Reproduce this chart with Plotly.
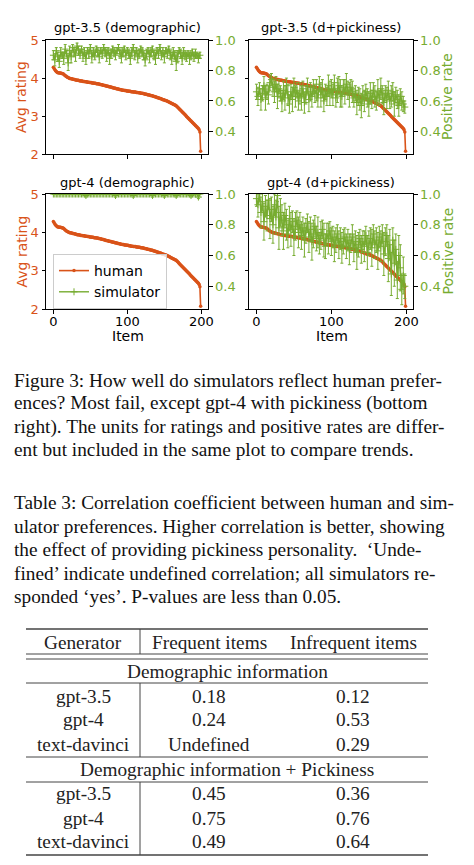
import plotly.graph_objects as go

W, H = 474, 865
ORANGE = "#D95319"
GREEN = "#77AC30"

# ---------------- data ----------------
ITEMS = list(range(200))
HUMAN = [
    4.28, 4.25, 4.22, 4.19, 4.17, 4.15, 4.14, 4.14, 4.13, 4.13,
    4.13, 4.12, 4.12, 4.11, 4.10, 4.08, 4.06, 4.05, 4.03, 4.02,
    4.01, 4.00, 3.99, 3.99, 3.98, 3.98, 3.97, 3.97, 3.96, 3.96,
    3.95, 3.95, 3.94, 3.94, 3.94, 3.93, 3.93, 3.92, 3.92, 3.92,
    3.91, 3.91, 3.91, 3.90, 3.90, 3.90, 3.89, 3.89, 3.89, 3.88,
    3.88, 3.88, 3.87, 3.87, 3.87, 3.86, 3.86, 3.86, 3.85, 3.85,
    3.85, 3.84, 3.84, 3.83, 3.83, 3.82, 3.82, 3.81, 3.81, 3.80,
    3.80, 3.79, 3.79, 3.78, 3.78, 3.77, 3.77, 3.76, 3.76, 3.75,
    3.75, 3.74, 3.74, 3.73, 3.73, 3.72, 3.72, 3.71, 3.71, 3.70,
    3.70, 3.69, 3.69, 3.68, 3.68, 3.68, 3.67, 3.67, 3.67, 3.66,
    3.66, 3.66, 3.65, 3.65, 3.65, 3.64, 3.64, 3.64, 3.63, 3.63,
    3.63, 3.63, 3.62, 3.62, 3.62, 3.61, 3.61, 3.61, 3.60, 3.60,
    3.60, 3.59, 3.59, 3.58, 3.58, 3.57, 3.57, 3.56, 3.56, 3.55,
    3.55, 3.54, 3.54, 3.53, 3.53, 3.52, 3.51, 3.51, 3.50, 3.50,
    3.49, 3.48, 3.48, 3.47, 3.46, 3.46, 3.45, 3.44, 3.43, 3.43,
    3.42, 3.41, 3.41, 3.40, 3.39, 3.38, 3.37, 3.36, 3.35, 3.34,
    3.33, 3.32, 3.31, 3.30, 3.29, 3.28, 3.27, 3.25, 3.23, 3.21,
    3.19, 3.17, 3.15, 3.13, 3.11, 3.09, 3.07, 3.05, 3.03, 3.01,
    2.99, 2.97, 2.95, 2.93, 2.91, 2.89, 2.87, 2.85, 2.83, 2.81,
    2.79, 2.77, 2.75, 2.73, 2.71, 2.69, 2.67, 2.64, 2.58, 2.07,
]

SIM_ITEMS = list(range(0, 200, 2))

GPT35_DEMO = [
    0.90, 0.87, 0.93, 0.89, 0.86, 0.92, 0.90, 0.88, 0.94, 0.91,
    0.85, 0.93, 0.89, 0.95, 0.92, 0.90, 0.96, 0.93, 0.91, 0.94,
    0.90, 0.92, 0.88, 0.93, 0.91, 0.95, 0.89, 0.92, 0.90, 0.94,
    0.92, 0.89, 0.93, 0.91, 0.95, 0.92, 0.90, 0.93, 0.88, 0.91,
    0.94, 0.92, 0.90, 0.93, 0.95, 0.91, 0.89, 0.92, 0.94, 0.90,
    0.93, 0.91, 0.88, 0.92, 0.95, 0.90, 0.93, 0.89, 0.91, 0.94,
    0.92, 0.90, 0.87, 0.91, 0.93, 0.89, 0.92, 0.94, 0.90, 0.88,
    0.93, 0.91, 0.95, 0.90, 0.92, 0.89, 0.93, 0.91, 0.94, 0.90,
    0.88, 0.92, 0.90, 0.86, 0.89, 0.93, 0.91, 0.88, 0.92, 0.90,
    0.89, 0.91, 0.88, 0.90, 0.92, 0.89, 0.91, 0.90, 0.88, 0.90,
]
GPT35_DEMO_ERR = [
    0.03, 0.04, 0.02, 0.03, 0.04, 0.03, 0.02, 0.04, 0.03, 0.02,
    0.05, 0.03, 0.04, 0.02, 0.03, 0.04, 0.02, 0.03, 0.03, 0.02,
    0.04, 0.03, 0.04, 0.02, 0.03, 0.02, 0.04, 0.03, 0.03, 0.02,
    0.03, 0.04, 0.02, 0.03, 0.02, 0.03, 0.04, 0.02, 0.04, 0.03,
    0.02, 0.03, 0.03, 0.02, 0.02, 0.03, 0.04, 0.03, 0.02, 0.03,
    0.02, 0.03, 0.04, 0.03, 0.02, 0.03, 0.02, 0.04, 0.03, 0.02,
    0.03, 0.03, 0.04, 0.03, 0.02, 0.04, 0.03, 0.02, 0.03, 0.04,
    0.02, 0.03, 0.02, 0.03, 0.03, 0.04, 0.02, 0.03, 0.02, 0.03,
    0.04, 0.03, 0.03, 0.06, 0.04, 0.02, 0.03, 0.04, 0.03, 0.03,
    0.03, 0.02, 0.04, 0.03, 0.02, 0.03, 0.03, 0.02, 0.03, 0.02,
]

GPT35_PICK = [
    0.66, 0.63, 0.68, 0.61, 0.65, 0.70, 0.62, 0.66, 0.64, 0.72,
    0.74, 0.69, 0.66, 0.71, 0.63, 0.68, 0.65, 0.60, 0.67, 0.62,
    0.70, 0.64, 0.58, 0.66, 0.61, 0.69, 0.63, 0.67, 0.60, 0.65,
    0.62, 0.68, 0.59, 0.64, 0.70, 0.61, 0.66, 0.63, 0.69, 0.65,
    0.67, 0.62, 0.71, 0.64, 0.68, 0.60, 0.66, 0.63, 0.70, 0.65,
    0.68, 0.64, 0.72, 0.62, 0.67, 0.70, 0.65, 0.63, 0.69, 0.66,
    0.71, 0.67, 0.64, 0.69, 0.66, 0.62, 0.65, 0.59, 0.63, 0.61,
    0.57, 0.64, 0.60, 0.66, 0.62, 0.58, 0.65, 0.61, 0.67, 0.63,
    0.60, 0.66, 0.62, 0.68, 0.64, 0.59, 0.65, 0.62, 0.67, 0.60,
    0.63, 0.66, 0.58, 0.64, 0.61, 0.57, 0.63, 0.60, 0.58, 0.56,
]
GPT35_PICK_ERR = [
    0.05, 0.06, 0.04, 0.07, 0.05, 0.06, 0.08, 0.05, 0.06, 0.05,
    0.04, 0.06, 0.07, 0.05, 0.08, 0.06, 0.05, 0.07, 0.06, 0.08,
    0.05, 0.07, 0.06, 0.05, 0.08, 0.06, 0.07, 0.05, 0.06, 0.07,
    0.08, 0.05, 0.07, 0.06, 0.05, 0.08, 0.06, 0.07, 0.05, 0.06,
    0.07, 0.06, 0.05, 0.08, 0.06, 0.07, 0.05, 0.06, 0.07, 0.08,
    0.06, 0.07, 0.05, 0.06, 0.08, 0.06, 0.09, 0.07, 0.05, 0.08,
    0.07, 0.06, 0.08, 0.05, 0.07, 0.06, 0.05, 0.08, 0.06, 0.07,
    0.08, 0.06, 0.07, 0.05, 0.06, 0.08, 0.07, 0.06, 0.05, 0.07,
    0.06, 0.08, 0.05, 0.07, 0.06, 0.08, 0.05, 0.07, 0.06, 0.05,
    0.07, 0.06, 0.08, 0.05, 0.06, 0.07, 0.05, 0.06, 0.05, 0.04,
]

GPT4_DEMO = [
    1.00, 1.00, 1.00, 1.00, 1.00, 1.00, 1.00, 1.00, 1.00, 1.00,
    1.00, 1.00, 1.00, 1.00, 1.00, 1.00, 1.00, 1.00, 1.00, 1.00,
    1.00, 1.00, 0.99, 1.00, 1.00, 1.00, 1.00, 1.00, 1.00, 1.00,
    1.00, 1.00, 1.00, 1.00, 1.00, 1.00, 1.00, 1.00, 1.00, 1.00,
    1.00, 1.00, 0.99, 1.00, 1.00, 1.00, 1.00, 1.00, 1.00, 1.00,
    1.00, 1.00, 1.00, 1.00, 0.99, 1.00, 1.00, 1.00, 1.00, 1.00,
    1.00, 1.00, 1.00, 1.00, 1.00, 1.00, 1.00, 0.99, 1.00, 1.00,
    1.00, 1.00, 1.00, 1.00, 1.00, 0.99, 1.00, 1.00, 1.00, 1.00,
    1.00, 1.00, 1.00, 0.99, 1.00, 1.00, 1.00, 1.00, 1.00, 1.00,
    1.00, 1.00, 1.00, 0.99, 1.00, 1.00, 1.00, 1.00, 0.98, 1.00,
]
GPT4_DEMO_ERR = [
    0.00, 0.00, 0.00, 0.00, 0.00, 0.00, 0.00, 0.00, 0.00, 0.00,
    0.00, 0.00, 0.00, 0.00, 0.00, 0.00, 0.00, 0.00, 0.00, 0.00,
    0.00, 0.00, 0.01, 0.00, 0.00, 0.00, 0.00, 0.00, 0.00, 0.00,
    0.00, 0.00, 0.00, 0.00, 0.00, 0.00, 0.00, 0.00, 0.00, 0.00,
    0.00, 0.00, 0.01, 0.00, 0.00, 0.00, 0.00, 0.00, 0.00, 0.00,
    0.00, 0.00, 0.00, 0.00, 0.01, 0.00, 0.00, 0.00, 0.00, 0.00,
    0.00, 0.00, 0.00, 0.00, 0.00, 0.00, 0.00, 0.01, 0.00, 0.00,
    0.00, 0.00, 0.00, 0.00, 0.00, 0.01, 0.00, 0.00, 0.00, 0.00,
    0.00, 0.00, 0.00, 0.01, 0.00, 0.00, 0.00, 0.00, 0.00, 0.00,
    0.00, 0.00, 0.00, 0.01, 0.00, 0.00, 0.00, 0.00, 0.01, 0.00,
]

GPT4_PICK = [
    0.97, 0.93, 1.00, 0.88, 0.95, 0.82, 0.92, 0.86, 0.96, 0.84,
    0.90, 0.80, 0.93, 0.85, 0.99, 0.78, 0.88, 0.83, 0.76, 0.86,
    0.80, 0.74, 0.84, 0.77, 0.82, 0.72, 0.79, 0.83, 0.75, 0.80,
    0.73, 0.78, 0.70, 0.76, 0.81, 0.72, 0.77, 0.69, 0.74, 0.79,
    0.71, 0.75, 0.68, 0.73, 0.77, 0.70, 0.66, 0.74, 0.71, 0.76,
    0.69, 0.72, 0.66, 0.70, 0.74, 0.67, 0.71, 0.65, 0.69, 0.72,
    0.66, 0.70, 0.64, 0.68, 0.72, 0.65, 0.69, 0.62, 0.67, 0.71,
    0.64, 0.69, 0.66, 0.73, 0.62, 0.68, 0.71, 0.65, 0.74, 0.67,
    0.70, 0.63, 0.72, 0.66, 0.74, 0.61, 0.69, 0.73, 0.58, 0.67,
    0.48, 0.70, 0.55, 0.64, 0.44, 0.60, 0.52, 0.38, 0.47, 0.40,
]
GPT4_PICK_ERR = [
    0.05, 0.08, 0.04, 0.10, 0.06, 0.12, 0.07, 0.10, 0.05, 0.13,
    0.08, 0.12, 0.07, 0.11, 0.04, 0.14, 0.09, 0.10, 0.12, 0.08,
    0.10, 0.09, 0.08, 0.11, 0.07, 0.12, 0.09, 0.06, 0.10, 0.08,
    0.09, 0.07, 0.11, 0.08, 0.06, 0.10, 0.08, 0.12, 0.09, 0.07,
    0.08, 0.10, 0.07, 0.09, 0.06, 0.11, 0.08, 0.07, 0.10, 0.06,
    0.09, 0.07, 0.10, 0.08, 0.06, 0.09, 0.07, 0.10, 0.08, 0.06,
    0.08, 0.07, 0.10, 0.06, 0.08, 0.09, 0.07, 0.11, 0.08, 0.06,
    0.09, 0.07, 0.10, 0.06, 0.11, 0.08, 0.07, 0.12, 0.06, 0.09,
    0.08, 0.12, 0.07, 0.10, 0.06, 0.14, 0.09, 0.07, 0.15, 0.10,
    0.14, 0.08, 0.15, 0.10, 0.12, 0.13, 0.15, 0.10, 0.12, 0.08,
]

PANEL_TITLES = ["gpt-3.5 (demographic)", "gpt-3.5 (d+pickiness)",
                "gpt-4 (demographic)", "gpt-4 (d+pickiness)"]
SIM_SERIES = [GPT35_DEMO, GPT35_PICK, GPT4_DEMO, GPT4_PICK]
SIM_ERRORS = [GPT35_DEMO_ERR, GPT35_PICK_ERR, GPT4_DEMO_ERR, GPT4_PICK_ERR]

LEFT_TICKS = [2, 3, 4, 5]
RIGHT_TICKS = [0.4, 0.6, 0.8, 1.0]
RIGHT_TICKTEXT = ["0.4", "0.6", "0.8", "1.0"]
X_TICKS = [0, 100, 200]

CAPTION_FIG = [
    "Figure 3: How well do simulators reflect human prefer-",
    "ences? Most fail, except gpt-4 with pickiness (bottom",
    "right). The units for ratings and positive rates are differ-",
    "ent but included in the same plot to compare trends.",
]
CAPTION_TAB = [
    "Table 3: Correlation coefficient between human and sim-",
    "ulator preferences. Higher correlation is better, showing",
    "the effect of providing pickiness personality.  \u2018Unde-",
    "fined\u2019 indicate undefined correlation; all simulators re-",
    "sponded \u2018yes\u2019. P-values are less than 0.05.",
]

TABLE_HEADER = ["Generator", "Frequent items", "Infrequent items"]
GENERATORS = ["gpt-3.5", "gpt-4", "text-davinci"]
SECTION_1 = "Demographic information"
FREQ_DEMO = ["0.18", "0.24", "Undefined"]
INFREQ_DEMO = ["0.12", "0.53", "0.29"]
SECTION_2 = "Demographic information + Pickiness"
FREQ_PICK = ["0.45", "0.75", "0.49"]
INFREQ_PICK = ["0.36", "0.76", "0.64"]

# ---------------- helpers ----------------
# the page body has an 8px margin, so the figure itself starts at (8, 8)
OFF = 8

def px(x):
    return (x - OFF) / W

def py(y):
    return 1 - (y - OFF) / H

SANS = "DejaVu Sans"
SERIF = "Liberation Serif"

fig = go.Figure()

# panel boxes in page pixels: (left, right, top, bottom)
boxes = [(46, 208, 40, 154), (249, 413, 40, 154),
         (46, 208, 194, 309), (249, 413, 194, 309)]

layout = {}
for i, (l, r, t, b) in enumerate(boxes):
    xid = "x" if i == 0 else f"x{i+1}"
    yl = "y" if i == 0 else f"y{2*i+1}"
    yr = f"y{2*i+2}"
    xkey = "xaxis" if i == 0 else f"xaxis{i+1}"
    ylkey = "yaxis" if i == 0 else f"yaxis{2*i+1}"
    yrkey = f"yaxis{2*i+2}"
    bottom_row = i >= 2
    left_col = i % 2 == 0
    common = dict(showline=True, linecolor="#000", linewidth=1, ticks="outside",
                  ticklen=3.5, tickwidth=1, tickcolor="#000", showgrid=False,
                  zeroline=False, fixedrange=True, automargin=False)
    layout[xkey] = dict(domain=[px(l), px(r)], anchor=yl, range=[-9.95, 208.95],
                        tickvals=X_TICKS, showticklabels=bottom_row, mirror=True,
                        ticklabelstandoff=-3,
                        tickfont=dict(family=SANS, size=13, color="#000"), **common)
    layout[ylkey] = dict(domain=[py(b), py(t)], anchor=xid, range=[2, 5],
                         tickvals=LEFT_TICKS, showticklabels=left_col,
                         tickfont=dict(family=SANS, size=13, color=ORANGE), **common)
    layout[yrkey] = dict(overlaying=yl, anchor=xid, side="right", range=[0.252, 1.0],
                         tickvals=RIGHT_TICKS, ticktext=RIGHT_TICKTEXT,
                         tickfont=dict(family=SANS, size=13, color=GREEN), **common)

    fig.add_trace(go.Scatter(
        x=ITEMS, y=HUMAN, mode="lines+markers", name="human",
        line=dict(color=ORANGE, width=1.6), marker=dict(size=3.5, color=ORANGE),
        xaxis=xid, yaxis=yl, showlegend=(i == 2), legendrank=1))
    fig.add_trace(go.Scatter(
        x=SIM_ITEMS, y=SIM_SERIES[i], mode="lines+markers", name="simulator",
        line=dict(color=GREEN, width=1.4),
        marker=dict(symbol="cross-thin", size=5, color=GREEN, line=dict(width=1, color=GREEN)),
        error_y=dict(type="data", array=SIM_ERRORS[i], color=GREEN, thickness=1, width=1.5),
        xaxis=xid, yaxis=yr, showlegend=(i == 2), legendrank=2))

annotations = []
title_y = [28, 28, 182, 182]
for i, (l, r, t, b) in enumerate(boxes):
    annotations.append(dict(text=PANEL_TITLES[i], x=px((l + r) / 2), y=py(title_y[i]),
                            xref="paper", yref="paper", showarrow=False,
                            xanchor="center", yanchor="middle",
                            font=dict(family=SANS, size=13, color="#000")))

# axis titles
for yc in [(40 + 154) / 2, (194 + 309) / 2]:
    annotations.append(dict(text="Avg rating", x=px(21), y=py(yc), xref="paper", yref="paper",
                            showarrow=False, textangle=-90, xanchor="center", yanchor="middle",
                            font=dict(family=SANS, size=14, color=ORANGE)))
    annotations.append(dict(text="Positive rate", x=px(447), y=py(yc), xref="paper", yref="paper",
                            showarrow=False, textangle=-90, xanchor="center", yanchor="middle",
                            font=dict(family=SANS, size=14, color=GREEN)))
for xc in [128, 332]:
    annotations.append(dict(text="Item", x=px(xc), y=py(336), xref="paper", yref="paper",
                            showarrow=False, xanchor="center", yanchor="middle",
                            font=dict(family=SANS, size=14, color="#000")))

# captions
CAP_FS = 19.3
for k, line in enumerate(CAPTION_FIG):
    annotations.append(dict(text=line, x=px(12), y=py([380, 403, 427, 449][k]),
                            xref="paper", yref="paper", showarrow=False,
                            xanchor="left", yanchor="middle",
                            font=dict(family=SERIF, size=CAP_FS, color="#111")))
for k, line in enumerate(CAPTION_TAB):
    annotations.append(dict(text=line, x=px(12), y=py([502, 526, 549, 573, 596][k]),
                            xref="paper", yref="paper", showarrow=False,
                            xanchor="left", yanchor="middle",
                            font=dict(family=SERIF, size=CAP_FS, color="#111")))

# table
TAB_FS = 19.3
col_x = [83, 209, 353]
def tab_text(s, x, y):
    annotations.append(dict(text=s, x=px(x), y=py(y), xref="paper", yref="paper",
                            showarrow=False, xanchor="center", yanchor="middle",
                            font=dict(family=SERIF, size=TAB_FS, color="#222")))

for j, h in enumerate(TABLE_HEADER):
    tab_text(h, col_x[j], 642)
tab_text(SECTION_1, 227, 671)
for k, yy in enumerate([696, 719, 744]):
    tab_text(GENERATORS[k], col_x[0], yy)
    tab_text(FREQ_DEMO[k], col_x[1], yy)
    tab_text(INFREQ_DEMO[k], col_x[2], yy)
tab_text(SECTION_2, 227, 769)
for k, yy in enumerate([793, 818, 841]):
    tab_text(GENERATORS[k], col_x[0], yy)
    tab_text(FREQ_PICK[k], col_x[1], yy)
    tab_text(INFREQ_PICK[k], col_x[2], yy)

shapes = []
def hline(y, w=1.0):
    shapes.append(dict(type="line", xref="paper", yref="paper", x0=px(26), x1=px(428),
                       y0=py(y), y1=py(y), line=dict(color="#444", width=w)))
def vline(y0, y1):
    shapes.append(dict(type="line", xref="paper", yref="paper", x0=px(140), x1=px(140),
                       y0=py(y0), y1=py(y1), line=dict(color="#444", width=1.0)))
hline(629, 1.6)
hline(654)
hline(659)
hline(683)
hline(757)
hline(782)
hline(855, 1.6)
vline(629, 654)
vline(683, 757)
vline(782, 855)

layout.update(dict(
    width=W, height=H, autosize=False,
    margin=dict(l=0, r=0, t=0, b=0, pad=0, autoexpand=False),
    paper_bgcolor="white", plot_bgcolor="white",
    annotations=annotations, shapes=shapes,
    legend=dict(x=px(53), y=py(254), xanchor="left", yanchor="top",
                bgcolor="rgba(255,255,255,0.8)", bordercolor="#cccccc", borderwidth=1,
                font=dict(family=SANS, size=14, color="#000"),
                tracegroupgap=0, itemwidth=30),
    showlegend=True,
))
fig.update_layout(**layout)
fig.write_html("out.html")
